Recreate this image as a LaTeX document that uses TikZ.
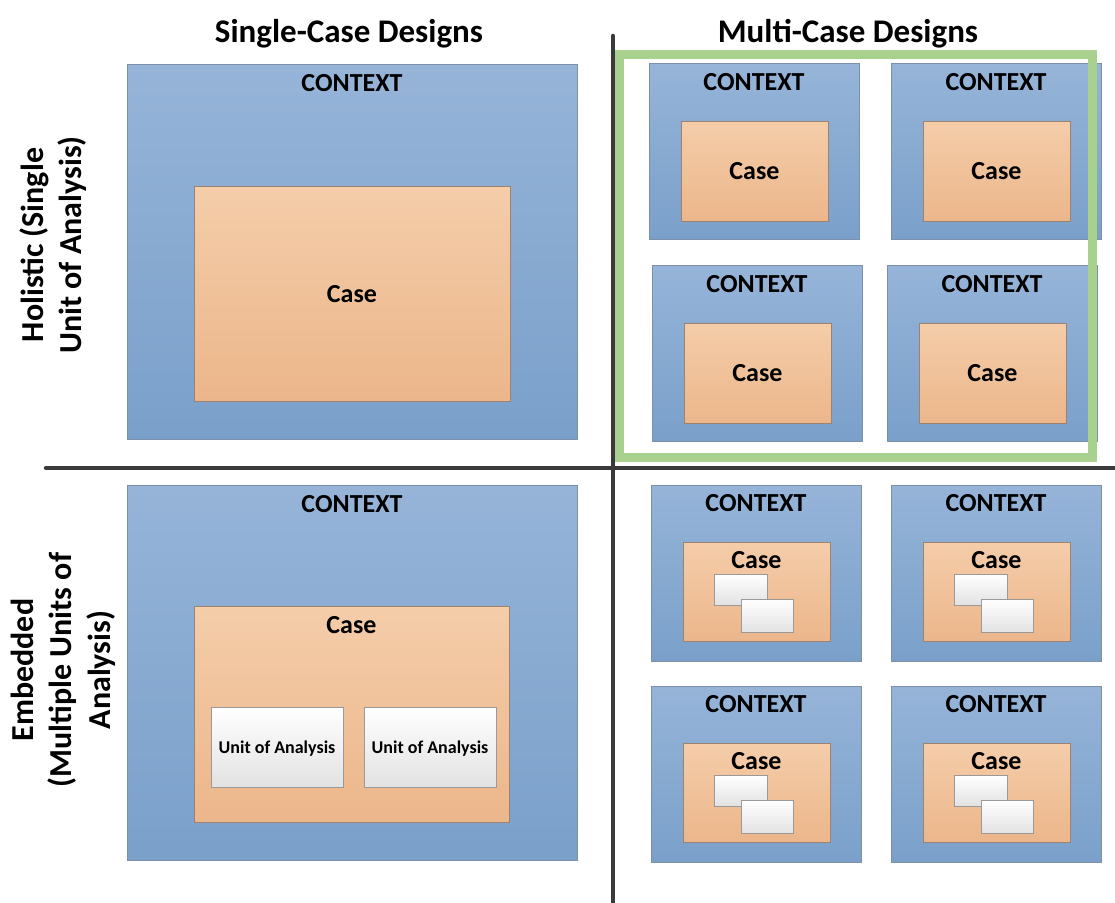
\documentclass[tikz,border=0pt]{standalone}
\usepackage{fontspec}
\setmainfont{Carlito}
\usetikzlibrary{calc}

\definecolor{ctxtop}{HTML}{96B4D8}
\definecolor{ctxbot}{HTML}{7AA0CA}
\definecolor{ctxline}{HTML}{7D90AA}
\definecolor{casetop}{HTML}{F4CDA9}
\definecolor{casebot}{HTML}{ECB68B}
\definecolor{caseline}{HTML}{9E8270}
\definecolor{unitbot}{HTML}{E2E2E2}
\definecolor{unitline}{HTML}{9A9A9A}
\definecolor{axiscol}{HTML}{3A3A3A}
\definecolor{hl}{HTML}{A9D18E}

\tikzset{
  box/.style={rectangle, inner sep=0pt, outer sep=0pt, anchor=north west, line width=0.9pt},
  sz/.style 2 args={minimum width=#1pt, minimum height=#2pt},
  ctx/.style={box, draw=ctxline, top color=ctxtop, bottom color=ctxbot},
  casebox/.style={box, draw=caseline, top color=casetop, bottom color=casebot},
  unitbox/.style={box, draw=unitline, top color=white, bottom color=unitbot},
  lbl/.style={font=\bfseries\fontsize{26}{30}\selectfont, inner sep=0pt, anchor=base},
  unitlbl/.style={font=\bfseries\fontsize{18}{21}\selectfont, inner sep=0pt, anchor=base},
  title/.style={font=\bfseries\fontsize{33}{38}\selectfont, inner sep=0pt, anchor=base},
  side/.style={font=\bfseries\fontsize{32}{38.5}\selectfont, inner sep=0pt, rotate=90, align=center},
  axisline/.style={draw=axiscol, line width=4.5pt, line cap=round},
}

\begin{document}
\begin{tikzpicture}[x=1pt, y=-1pt]
\useasboundingbox (0,0) rectangle (1115,902);

% column and row headings
\node[title] (hsingle) at (349,42) {Single-Case Designs};
\node[title] (hmulti) at (848,42) {Multi-Case Designs};
\node[side] (rholistic) at (53,245) {Holistic (Single\\Unit of Analysis)};
\node[side] (rembedded) at (63,670) {Embedded\\(Multiple Units of\\Analysis)};

% single case, holistic
\node[ctx, sz={450}{375}] (sh) at (127,64) {};
\node[lbl] (shlbl) at ($(sh.north)+(0,27.5)$) {CONTEXT};
\node[casebox, sz={316}{215}] (shcase) at (194,186) {};
\node[lbl] (shcaselbl) at ($(shcase.center)+(0,8.5)$) {Case};

% single case, embedded
\node[ctx, sz={450}{375}] (se) at (127,485) {};
\node[lbl] (selbl) at ($(se.north)+(0,27.5)$) {CONTEXT};
\node[casebox, sz={315}{216}] (secase) at (194,606) {};
\node[lbl] (secaselbl) at ($(secase.north)+(0,27.5)$) {Case};
\node[unitbox, sz={132}{80}] (unita) at (211,707) {};
\node[unitlbl] (unitalbl) at ($(unita.center)+(0,6)$) {Unit of Analysis};
\node[unitbox, sz={132}{80}] (unitb) at (364,707) {};
\node[unitlbl] (unitblbl) at ($(unitb.center)+(0,6)$) {Unit of Analysis};

% multiple cases, holistic
\foreach \n/\px/\py in {a/649/63, b/891/63, c/652/265, d/887/265} {
  \node[ctx, sz={210}{176}] (mh\n) at (\px,\py) {};
  \node[lbl] (mh\n lbl) at ($(mh\n.north)+(0,27.5)$) {CONTEXT};
  \node[casebox, sz={147}{100}] (mh\n case) at ($(mh\n.north west)+(32,58)$) {};
  \node[lbl] (mh\n caselbl) at ($(mh\n case.center)+(0,8.5)$) {Case};
}

% highlight around the multiple holistic cases
\node[box, draw=hl, line width=9pt, sz={473}{403}] (group) at (619,54) {};

% multiple cases, embedded
\foreach \n/\px/\py in {a/651/485, b/891/485, c/651/686, d/891/686} {
  \node[ctx, sz={210}{176}] (me\n) at (\px,\py) {};
  \node[lbl] (me\n lbl) at ($(me\n.north)+(0,26.5)$) {CONTEXT};
  \node[casebox, sz={147}{99}] (me\n case) at ($(me\n.north west)+(32,57)$) {};
  \node[lbl] (me\n caselbl) at ($(me\n case.north)+(0,26.5)$) {Case};
  \node[unitbox, sz={53}{31}] (me\n ua) at ($(me\n case.north west)+(31,32)$) {};
  \node[unitbox, sz={52}{33}] (me\n ub) at ($(me\n case.north west)+(58,57)$) {};
}

% quadrant axes
\coordinate (vtop) at (613,36);
\coordinate (vbot) at (613,905);
\coordinate (hleft) at (46,468);
\coordinate (hright) at (1120,468);
\draw[axisline] (vtop) -- (vbot);
\draw[axisline] (hleft) -- (hright);
\end{tikzpicture}
\end{document}
